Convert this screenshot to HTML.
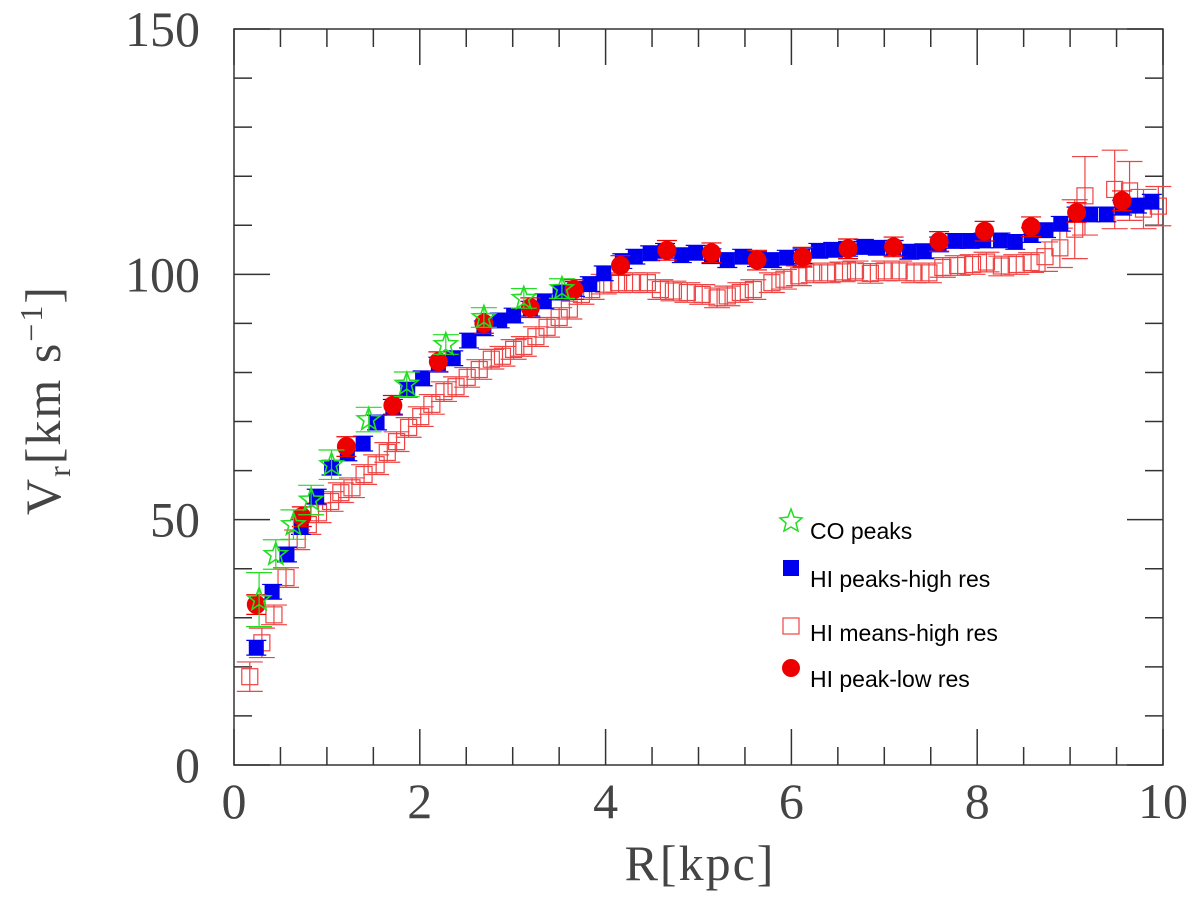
<!DOCTYPE html>
<html><head><meta charset="utf-8"><style>
body{margin:0;background:#fff;}
svg{display:block;}
text{font-family:"Liberation Serif",serif;fill:#444;}
.lg{font-family:"Liberation Sans",sans-serif;fill:#000;font-size:23px;}
</style></head><body>
<svg id="chart" width="1200" height="922" viewBox="0 0 1200 922">
<g id="axes"></g>
<g id="marks"></g>
<text x="700" y="880" font-size="50" text-anchor="middle" style="letter-spacing:2px">R[kpc]</text>
<text transform="translate(60,400) rotate(-90)" font-size="50" text-anchor="middle" style="letter-spacing:2px">V<tspan font-size="32" dy="10">r</tspan><tspan dy="-10">[km s</tspan><tspan font-size="32" dy="-18">−1</tspan><tspan dy="18">]</tspan></text>
<g id="legend">
<polygon points="791,509 794,517 802,518 796,523 798,531 791,527 784,531 786,523 780,518 788,517" fill="none" stroke="#22dd22" stroke-width="1.5"/>
<text class="lg" x="810" y="539">CO peaks</text>
<rect x="783" y="560" width="16" height="16" fill="#0000ee"/>
<text class="lg" x="810" y="587">HI peaks-high res</text>
<rect x="783" y="618" width="16" height="16" fill="none" stroke="#ee4444" stroke-width="1.2"/>
<text class="lg" x="810" y="641">HI means-high res</text>
<circle cx="791" cy="668" r="9" fill="#ee0000"/>
<text class="lg" x="810" y="687">HI peak-low res</text>
</g>
</svg>
<script>
const xTicks=[0,2,4,6,8,10];
const yTicks=[0,50,100,150];
const meanR=[0.17,0.3,0.43,0.56,0.68,0.8,0.91,1.04,1.15,1.27,1.4,1.53,1.65,1.75,1.88,2.01,2.13,2.26,2.39,2.51,2.64,2.77,2.89,3.01,3.12,3.25,3.37,3.5,3.61,3.74,3.85,3.98,4.14,4.29,4.45,4.59,4.73,4.88,5.04,5.2,5.31,5.45,5.59,5.79,5.92,6.08,6.24,6.39,6.55,6.69,6.85,7.0,7.16,7.32,7.48,7.63,7.79,7.95,8.1,8.26,8.42,8.58,8.73,8.89,9.05,9.16,9.48,9.64,9.79,9.95];
const meanV=[18,24.9,30.6,38.2,45.9,49,51.4,53.7,55.5,56.5,59.2,61.2,63.7,65.9,68.8,71,73.5,76.1,77.1,79,80.6,82.7,83.3,84.7,85.3,87.3,89.2,91.2,92.9,95.9,96.9,98,98.3,98.3,98.3,96.9,96.6,96.3,95.9,95.2,95.6,96.3,96.9,98.3,99,99.7,100.3,100.3,100.5,100.7,100.2,100.7,100.7,100.3,100.3,101.4,101.8,102,102.5,101.7,102,102.4,103.6,105.4,109.2,116,117.3,117,113.3,113.9];
const meanErr=[3,3,2,2,2,2,2,2,2,2,2,2,2,2,2,2,2,2,2,2,2,2,2,2,2,2,2,2,2,2,2,2,2,2,2,2,2,2,2,2,2,2,2,2,2,2,2,2,2,2,2,2,2,2,2,2,2,2,2,2,2,2,3,4,6,8,8,6,4,4];
const peakR=[0.24,0.41,0.57,0.72,0.89,1.05,1.22,1.39,1.54,1.71,1.87,2.03,2.2,2.36,2.53,2.69,2.86,3.01,3.19,3.34,3.51,3.67,3.83,3.98,4.18,4.32,4.48,4.64,4.82,4.97,5.14,5.31,5.47,5.63,5.79,5.95,6.12,6.29,6.45,6.61,6.78,6.93,7.1,7.27,7.43,7.59,7.76,7.92,8.07,8.25,8.41,8.58,8.74,8.9,9.07,9.22,9.39,9.56,9.72,9.88];
const peakV=[23.9,35.3,42.9,48.5,54.7,60.6,63.5,65.5,69.8,73,76.5,78.8,81.6,82.9,86.5,89,90.6,91.6,93,94.5,96.3,97,98,100.2,102.7,103.6,104.3,104.8,103.9,104.4,103.7,102.9,103.6,103.1,102.9,103.4,103.7,104.8,105,105.2,105.6,105.4,105.4,104.6,104.7,106.1,106.8,106.8,106.9,106.9,106.6,108,109,110.3,112.2,112.2,112.2,113.6,114,114.8];
const lowR=[0.24,0.73,1.21,1.71,2.2,2.69,3.19,3.66,4.16,4.66,5.14,5.63,6.12,6.61,7.1,7.59,8.08,8.58,9.07,9.56];
const lowV=[32.7,50.6,64.9,73.3,82.2,90,93.2,96.9,101.8,104.9,104.4,102.9,103.5,105.2,105.6,106.7,108.8,109.7,112.6,115];
const coR=[0.27,0.45,0.64,0.83,1.05,1.45,1.86,2.28,2.69,3.12,3.53];
const coV=[33.7,42.9,49,54,61.2,70.4,77.6,85.7,91.2,95.1,97.1];
const coErr=[5.5,3,3,3,3,2.5,2.5,2,2,2,2];

const X0=234,X1=1163,Y0=765,Y1=29;
const sx=r=>X0+(X1-X0)*r/10;
const sy=v=>Y0-(Y0-Y1)*v/150;
const NS='http://www.w3.org/2000/svg';
function mk(tag,attrs,parent){const e=document.createElementNS(NS,tag);for(const k in attrs)e.setAttribute(k,attrs[k]);parent.appendChild(e);return e;}
const axes=document.getElementById('axes'),marks=document.getElementById('marks');

const frame=mk('rect',{x:X0,y:Y1,width:X1-X0,height:Y0-Y1,fill:'none',stroke:'#333','stroke-width':1.5},axes);


for(let v=0;v<=150;v+=10){
  const L=(v%50===0)?36:18;
  const t1=mk('line',{x1:X0,x2:X0+L,y1:sy(v),y2:sy(v),stroke:'#333','stroke-width':1.5},axes);
  
  
  const t2=mk('line',{x1:X1,x2:X1-L,y1:sy(v),y2:sy(v),stroke:'#333','stroke-width':1.5},axes);
  
  
}
for(let r=0;r<=10.001;r+=0.5){
  const L=(Math.abs(r/2-Math.round(r/2))<1e-6)?36:18;
  const t1=mk('line',{x1:sx(r),x2:sx(r),y1:Y0,y2:Y0-L,stroke:'#333','stroke-width':1.5},axes);
  
  
  const t2=mk('line',{x1:sx(r),x2:sx(r),y1:Y1,y2:Y1+L,stroke:'#333','stroke-width':1.5},axes);
  
  
}
yTicks.forEach(v=>{
  const t=mk('text',{x:200,y:sy(v)+17,'font-size':50,'text-anchor':'end'},axes);
  t.textContent=v;
  
  
});
xTicks.forEach(r=>{
  const t=mk('text',{x:sx(r),y:818,'font-size':50,'text-anchor':'middle'},axes);
  t.textContent=r;
  
  
});
function ebar(r,v,e,hw,col,g){
  mk('line',{x1:sx(r),x2:sx(r),y1:sy(v-e),y2:sy(v+e),stroke:col,'stroke-width':1.2},g);
  mk('line',{x1:sx(r)-hw,x2:sx(r)+hw,y1:sy(v-e),y2:sy(v-e),stroke:col,'stroke-width':1.2},g);
  mk('line',{x1:sx(r)-hw,x2:sx(r)+hw,y1:sy(v+e),y2:sy(v+e),stroke:col,'stroke-width':1.2},g);
}
meanR.forEach((r,i)=>{
  const g=mk('g',{},marks);
  
  
  ebar(r,meanV[i],meanErr[i],13,'#ee4444',g);
  mk('rect',{x:sx(r)-8,y:sy(meanV[i])-8,width:16,height:16,fill:'none',stroke:'#ee4444','stroke-width':1.2},g);
});
peakR.forEach((r,i)=>{
  const g=mk('g',{},marks);
  
  
  ebar(r,peakV[i],1.5,10,'#0000ee',g);
  mk('rect',{x:sx(r)-7.5,y:sy(peakV[i])-7.5,width:15,height:15,fill:'#0000ee'},g);
});
lowR.forEach((r,i)=>{
  const g=mk('g',{},marks);
  
  
  ebar(r,lowV[i],2,10,'#ee0000',g);
  mk('circle',{cx:sx(r),cy:sy(lowV[i]),r:9.5,fill:'#ee0000'},g);
});
coR.forEach((r,i)=>{
  const g=mk('g',{},marks);
  
  
  ebar(r,coV[i],coErr[i],13,'#22dd22',g);
  const cx=sx(r),cy=sy(coV[i]);let p=[];
  for(let k=0;k<10;k++){const a=-Math.PI/2+k*Math.PI/5,rr=k%2?5:12;p.push((cx+rr*Math.cos(a)).toFixed(1)+','+(cy+rr*Math.sin(a)).toFixed(1));}
  mk('polygon',{points:p.join(' '),fill:'none',stroke:'#22dd22','stroke-width':1.6},g);
});
</script>
</body></html>
